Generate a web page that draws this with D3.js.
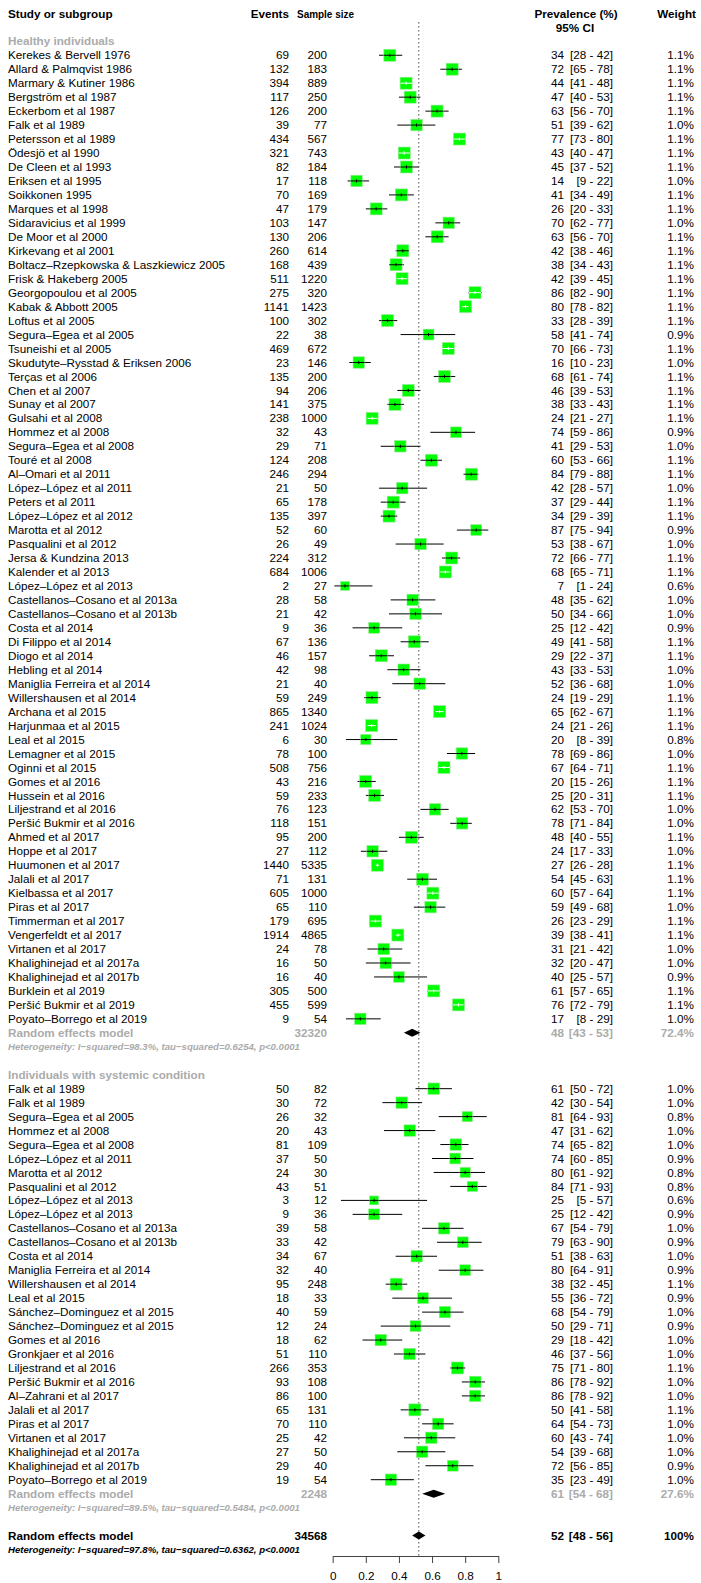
<!DOCTYPE html>
<html>
<head>
<meta charset="utf-8">
<script src="https://cdn.jsdelivr.net/npm/d3@7"></script>
<style>
  html, body { margin: 0; padding: 0; background: #fff; }
  svg text { font-family: "Liberation Sans", Arial, Helvetica, sans-serif; }
</style>
</head>
<body>
<svg id="chart" width="701" height="1583"></svg>
<script>
// ---------------- DATA ----------------
const group1Label = "Healthy individuals";
const names1 = ["Kerekes & Bervell 1976","Allard & Palmqvist 1986","Marmary & Kutiner 1986","Bergström et al 1987","Eckerbom et al 1987","Falk et al 1989","Petersson et al 1989","Ödesjö et al 1990","De Cleen et al 1993","Eriksen et al 1995","Soikkonen 1995","Marques et al 1998","Sidaravicius et al 1999","De Moor et al 2000","Kirkevang et al 2001","Boltacz–Rzepkowska &  Laszkiewicz 2005","Frisk & Hakeberg 2005","Georgopoulou et al 2005","Kabak & Abbott 2005","Loftus et al 2005","Segura–Egea et al 2005","Tsuneishi et al 2005","Skudutyte–Rysstad & Eriksen 2006","Terças et al 2006","Chen et al 2007","Sunay et al 2007","Gulsahi et al 2008","Hommez et al 2008","Segura–Egea et al 2008","Touré et al 2008","Al–Omari et al 2011","López–López et al 2011","Peters et al 2011","López–López et al 2012","Marotta et al 2012","Pasqualini et al 2012","Jersa & Kundzina 2013","Kalender et al 2013","López–López et al 2013","Castellanos–Cosano et al 2013a","Castellanos–Cosano et al 2013b","Costa et al 2014","Di Filippo et al 2014","Diogo et al 2014","Hebling et al 2014","Maniglia Ferreira et al 2014","Willershausen et al 2014","Archana et al 2015","Harjunmaa et al 2015","Leal et al 2015","Lemagner et al 2015","Oginni et al 2015","Gomes et al 2016","Hussein et al 2016","Liljestrand et al 2016","Peršić Bukmir et al 2016","Ahmed et al 2017","Hoppe et al 2017","Huumonen et al 2017","Jalali et al 2017","Kielbassa et al 2017","Piras et al 2017","Timmerman et al 2017","Vengerfeldt et al 2017","Virtanen et al 2017","Khalighinejad et al 2017a","Khalighinejad et al 2017b","Burklein et al 2019","Peršić Bukmir et al 2019","Poyato–Borrego et al 2019"];
const events1 = [69,132,394,117,126,39,434,321,82,17,70,47,103,130,260,168,511,275,1141,100,22,469,23,135,94,141,238,32,29,124,246,21,65,135,52,26,224,684,2,28,21,9,67,46,42,21,59,865,241,6,78,508,43,59,76,118,95,27,1440,71,605,65,179,1914,24,16,16,305,455,9];
const sizes1 = [200,183,889,250,200,77,567,743,184,118,169,179,147,206,614,439,1220,320,1423,302,38,672,146,200,206,375,1000,43,71,208,294,50,178,397,60,49,312,1006,27,58,42,36,136,157,98,40,249,1340,1024,30,100,756,216,233,123,151,200,112,5335,131,1000,110,695,4865,78,50,40,500,599,54];
const prev1 = [34,72,44,47,63,51,77,43,45,14,41,26,70,63,42,38,42,86,80,33,58,70,16,68,46,38,24,74,41,60,84,42,37,34,87,53,72,68,7,48,50,25,49,29,43,52,24,65,24,20,78,67,20,25,62,78,48,24,27,54,60,59,26,39,31,32,40,61,76,17];
const low1 = [28,65,41,40,56,39,73,40,37,9,34,20,62,56,38,34,39,82,78,28,41,66,10,61,39,33,21,59,29,53,79,28,29,29,75,38,66,65,1,35,34,12,41,22,33,36,19,62,21,8,69,64,15,20,53,71,40,17,26,45,57,49,23,38,21,20,25,57,72,8];
const high1 = [42,78,48,53,70,62,80,47,52,22,49,33,77,70,46,43,45,90,82,39,74,73,23,74,53,43,27,86,53,66,88,57,44,39,94,67,77,71,24,62,66,42,58,37,53,68,29,67,26,39,86,71,26,31,70,84,55,33,28,63,64,68,29,41,42,47,57,65,79,29];
const weights1 = [1.1,1.1,1.1,1.1,1.1,1.0,1.1,1.1,1.1,1.0,1.1,1.1,1.0,1.1,1.1,1.1,1.1,1.1,1.1,1.1,0.9,1.1,1.0,1.1,1.1,1.1,1.1,0.9,1.0,1.1,1.1,1.0,1.1,1.1,0.9,1.0,1.1,1.1,0.6,1.0,1.0,0.9,1.1,1.1,1.0,1.0,1.1,1.1,1.1,0.8,1.0,1.1,1.1,1.1,1.0,1.0,1.1,1.0,1.1,1.1,1.1,1.0,1.1,1.1,1.0,1.0,0.9,1.1,1.1,1.0];
const summary1 = {n: 32320, prev: 48, low: 43, high: 53, weight: "72.4%", het: "Heterogeneity: I−squared=98.3%, tau−squared=0.6254, p<0.0001"};

const group2Label = "Individuals with systemic condition";
const names2 = ["Falk et al 1989","Falk et al 1989","Segura–Egea et al 2005","Hommez et al 2008","Segura–Egea et al 2008","López–López et al 2011","Marotta et al 2012","Pasqualini et al 2012","López–López et al 2013","López–López et al 2013","Castellanos–Cosano et al 2013a","Castellanos–Cosano et al 2013b","Costa et al 2014","Maniglia Ferreira et al 2014","Willershausen et al 2014","Leal et al 2015","Sánchez–Dominguez et al 2015","Sánchez–Dominguez et al 2015","Gomes et al 2016","Gronkjaer et al 2016","Liljestrand et al 2016","Peršić Bukmir et al 2016","Al–Zahrani et al 2017","Jalali et al 2017","Piras et al 2017","Virtanen et al 2017","Khalighinejad et al 2017a","Khalighinejad et al 2017b","Poyato–Borrego et al 2019"];
const events2 = [50,30,26,20,81,37,24,43,3,9,39,33,34,32,95,18,40,12,18,51,266,93,86,65,70,25,27,29,19];
const sizes2 = [82,72,32,43,109,50,30,51,12,36,58,42,67,40,248,33,59,24,62,110,353,108,100,131,110,42,50,40,54];
const prev2 = [61,42,81,47,74,74,80,84,25,25,67,79,51,80,38,55,68,50,29,46,75,86,86,50,64,60,54,72,35];
const low2 = [50,30,64,31,65,60,61,71,5,12,54,63,38,64,32,36,54,29,18,37,71,78,78,41,54,43,39,56,23];
const high2 = [72,54,93,62,82,85,92,93,57,42,79,90,63,91,45,72,79,71,42,56,80,92,92,58,73,74,68,85,49];
const weights2 = [1.0,1.0,0.8,1.0,1.0,0.9,0.8,0.8,0.6,0.9,1.0,0.9,1.0,0.9,1.1,0.9,1.0,0.9,1.0,1.0,1.1,1.0,1.0,1.1,1.0,1.0,1.0,0.9,1.0];
const summary2 = {n: 2248, prev: 61, low: 54, high: 68, weight: "27.6%", het: "Heterogeneity: I−squared=89.5%, tau−squared=0.5484, p<0.0001"};

const overall = {n: 34568, prev: 52, low: 48, high: 56, weight: "100%", het: "Heterogeneity: I−squared=97.8%, tau−squared=0.6362, p<0.0001"};

const axisTicks = [0, 0.2, 0.4, 0.6, 0.8, 1];
const headers = {study: "Study or subgroup", events: "Events", size: "Sample size", prev: "Prevalence (%)", ci: "95% CI", weight: "Weight"};

// ---------------- LAYOUT ----------------
const svg = d3.select("#chart");
const FS = 11.7;
const grey = "#ababab";
const boxColor = "#00ff00";

const lines = [];
lines.push({type: "group", label: group1Label});
names1.forEach((nm, i) => lines.push({type: "study", name: nm, ev: events1[i], n: sizes1[i], p: prev1[i], lo: low1[i], hi: high1[i], w: weights1[i]}));
lines.push({type: "summary", label: "Random effects model", s: summary1, col: grey});
lines.push({type: "het", text: summary1.het, col: grey});
lines.push({type: "blank"});
lines.push({type: "group", label: group2Label});
names2.forEach((nm, i) => lines.push({type: "study", name: nm, ev: events2[i], n: sizes2[i], p: prev2[i], lo: low2[i], hi: high2[i], w: weights2[i]}));
lines.push({type: "summary", label: "Random effects model", s: summary2, col: grey});
lines.push({type: "het", text: summary2.het, col: grey});
lines.push({type: "blank"});
lines.push({type: "summary", label: "Random effects model", s: overall, col: "#000"});
lines.push({type: "het", text: overall.het, col: "#000"});

const rowStep = 13.965;
const y = d3.scaleLinear().domain([0, lines.length - 1]).range([41.3, 41.3 + (lines.length - 1) * rowStep]);
const x = d3.scaleLinear().domain([0, 1]).range([332.7, 498.3]);

const colX = {study: 8, events: 289, size: 327, prev: 564, ciEnd: 613, weight: 694};
const axisY = 1556;

svg.append("line")
  .attr("x1", x(overall.prev / 100)).attr("x2", x(overall.prev / 100))
  .attr("y1", 22).attr("y2", axisY)
  .attr("stroke", "#555").attr("stroke-width", 1).attr("stroke-dasharray", "1.6,2.4");

const hdr = svg.append("g").attr("font-weight", "bold").attr("font-size", FS).attr("fill", "#000");
hdr.append("text").attr("x", colX.study).attr("y", 14).attr("dy", "0.35em").text(headers.study);
hdr.append("text").attr("x", colX.events).attr("y", 14).attr("dy", "0.35em").attr("text-anchor", "end").text(headers.events);
hdr.append("text").attr("x", 297).attr("y", 14).attr("dy", "0.35em").attr("textLength", 57).attr("lengthAdjust", "spacingAndGlyphs").text(headers.size);
hdr.append("text").attr("x", 576).attr("y", 14).attr("dy", "0.35em").attr("text-anchor", "middle").text(headers.prev);
hdr.append("text").attr("x", 575).attr("y", 28).attr("dy", "0.35em").attr("text-anchor", "middle").text(headers.ci);
hdr.append("text").attr("x", 696).attr("y", 14).attr("dy", "0.35em").attr("text-anchor", "end").text(headers.weight);

const g = svg.append("g");
const maxW = d3.max(weights1.concat(weights2));
const side = d3.scaleSqrt().domain([0, maxW]).range([0, 12]);

lines.forEach((d, i) => {
  const yy = y(i);
  if (d.type === "group") {
    g.append("text").attr("x", colX.study).attr("y", yy).attr("dy", "0.35em")
      .attr("font-size", FS).attr("font-weight", "bold").attr("fill", grey).text(d.label);
  } else if (d.type === "study") {
    const t = g.append("g").attr("font-size", FS).attr("fill", "#000");
    t.append("text").attr("x", colX.study).attr("y", yy).attr("dy", "0.35em").text(d.name);
    t.append("text").attr("x", colX.events).attr("y", yy).attr("dy", "0.35em").attr("text-anchor", "end").text(d.ev);
    t.append("text").attr("x", colX.size).attr("y", yy).attr("dy", "0.35em").attr("text-anchor", "end").text(d.n);
    t.append("text").attr("x", colX.prev).attr("y", yy).attr("dy", "0.35em").attr("text-anchor", "end").text(d.p);
    t.append("text").attr("x", colX.ciEnd).attr("y", yy).attr("dy", "0.35em").attr("text-anchor", "end").text(`[${d.lo} - ${d.hi}]`);
    t.append("text").attr("x", colX.weight).attr("y", yy).attr("dy", "0.35em").attr("text-anchor", "end").text(d.w.toFixed(1) + "%");
    const cx = x(d.ev / d.n);
    const s = side(d.w);
    const xl = x(d.lo / 100), xh = x(d.hi / 100);
    const inside = xl >= cx - s / 2 - 0.8 && xh <= cx + s / 2 + 0.8;
    g.append("line").attr("x1", xl).attr("x2", xh).attr("y1", yy).attr("y2", yy)
      .attr("stroke", "#000").attr("stroke-width", 1);
    g.append("rect").attr("x", cx - s / 2).attr("y", yy - s / 2).attr("width", s).attr("height", s)
      .attr("fill", boxColor).attr("stroke", "#9be89b").attr("stroke-width", 0.6);
    const ic = inside ? "#fff" : "#000";
    g.append("line").attr("x1", Math.max(xl, cx - s / 2)).attr("x2", Math.min(xh, cx + s / 2))
      .attr("y1", yy).attr("y2", yy).attr("stroke", ic).attr("stroke-width", 1);
    g.append("line").attr("x1", cx).attr("x2", cx).attr("y1", yy - 1.6).attr("y2", yy + 1.6)
      .attr("stroke", ic).attr("stroke-width", 1);
  } else if (d.type === "summary") {
    const t = g.append("g").attr("font-size", FS).attr("font-weight", "bold").attr("fill", d.col);
    t.append("text").attr("x", colX.study).attr("y", yy).attr("dy", "0.35em").text(d.label);
    t.append("text").attr("x", colX.size).attr("y", yy).attr("dy", "0.35em").attr("text-anchor", "end").text(d.s.n);
    t.append("text").attr("x", colX.prev).attr("y", yy).attr("dy", "0.35em").attr("text-anchor", "end").text(d.s.prev);
    t.append("text").attr("x", colX.ciEnd).attr("y", yy).attr("dy", "0.35em").attr("text-anchor", "end").text(`[${d.s.low} - ${d.s.high}]`);
    t.append("text").attr("x", colX.weight).attr("y", yy).attr("dy", "0.35em").attr("text-anchor", "end").text(d.s.weight);
    const pts = [[x(d.s.low / 100), yy], [x(d.s.prev / 100), yy - 4], [x(d.s.high / 100), yy], [x(d.s.prev / 100), yy + 4]];
    g.append("path").attr("d", "M" + pts.map(p => p.join(",")).join("L") + "Z").attr("fill", "#000");
  } else if (d.type === "het") {
    g.append("text").attr("x", colX.study).attr("y", yy).attr("dy", "0.35em")
      .attr("font-size", 9.6).attr("font-weight", "bold").attr("font-style", "italic")
      .attr("fill", d.col).text(d.text);
  }
});

const axis = d3.axisBottom(x).tickValues(axisTicks).tickSize(7).tickSizeOuter(0).tickPadding(9)
  .tickFormat(d => d === 0 ? "0" : d === 1 ? "1" : d3.format(".1f")(d));
const ag = svg.append("g").attr("transform", `translate(0,${axisY})`).call(axis);
ag.select(".domain").attr("stroke", "#444");
ag.selectAll(".tick line").attr("stroke", "#444");
ag.selectAll(".tick text").attr("font-size", FS).attr("fill", "#000")
  .attr("font-family", "Liberation Sans, Arial, sans-serif");
</script>
</body>
</html>
